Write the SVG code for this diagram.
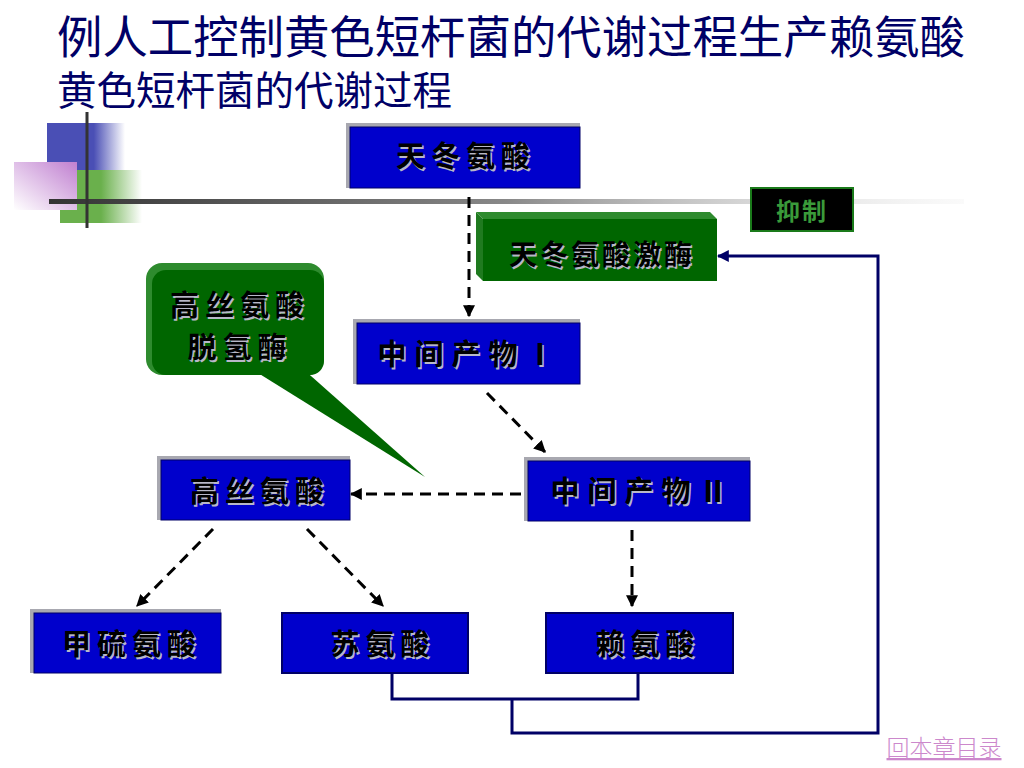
<svg xmlns="http://www.w3.org/2000/svg" width="1024" height="768" viewBox="0 0 1024 768">
<style>
.title{font-family:"Noto Sans CJK SC","Liberation Sans",sans-serif;fill:#000066}
.lbl{font-family:"Noto Sans CJK SC",sans-serif;font-size:29px;font-weight:700;text-anchor:middle;letter-spacing:6px}
.sh{fill:#b8b8c8}
.fg{fill:#000000}
.blue{fill:#0000CC;stroke:#000066;stroke-width:1}
.bev{fill:#a8a8b0}
.dash{fill:none;stroke:#000;stroke-width:3;stroke-dasharray:11 7;marker-end:url(#ah)}
.loop{fill:none;stroke:#000066;stroke-width:3}
</style>
<defs>
<marker id="ah" viewBox="0 0 10 10" refX="9" refY="5" markerWidth="4" markerHeight="4" orient="auto" markerUnits="strokeWidth"><path d="M0,0 L10,5 L0,10 z" fill="#000"/></marker>
<marker id="ahn" viewBox="0 0 10 10" refX="9" refY="5" markerWidth="4" markerHeight="4" orient="auto" markerUnits="strokeWidth"><path d="M0,0 L10,5 L0,10 z" fill="#000066"/></marker>
<linearGradient id="gBlue" x1="0" y1="0" x2="1" y2="0"><stop offset="0.6" stop-color="#4a4fb5"/><stop offset="1" stop-color="#4a4fb5" stop-opacity="0"/></linearGradient>
<linearGradient id="gGreen" x1="0" y1="0" x2="1" y2="0"><stop offset="0.5" stop-color="#6ab04c"/><stop offset="1" stop-color="#6ab04c" stop-opacity="0"/></linearGradient>
<linearGradient id="gPink" x1="1" y1="0" x2="0" y2="1"><stop offset="0" stop-color="#c080d0"/><stop offset="1" stop-color="#ffffff"/></linearGradient>
<linearGradient id="gLine" x1="0" y1="0" x2="1" y2="0"><stop offset="0" stop-color="#333"/><stop offset="0.5" stop-color="#888"/><stop offset="1" stop-color="#eee" stop-opacity="0.3"/></linearGradient>
</defs>
<rect width="1024" height="768" fill="#fff"/>

<g id="decor">
<rect x="47" y="123" width="78" height="47" fill="url(#gBlue)"/>
<rect x="60" y="170" width="82" height="53" fill="url(#gGreen)"/>
<rect x="14" y="162" width="63" height="48" fill="url(#gPink)"/>
<rect x="49" y="199" width="915" height="5" fill="url(#gLine)"/>
<rect x="85.500" y="112" width="3" height="116" fill="#333"/>
</g>

<g id="title">
<text class="title" x="57" y="54" font-size="45.400">例人工控制黄色短杆菌的代谢过程生产赖氨酸</text>
<text class="title" x="57" y="105" font-size="39.500">黄色短杆菌的代谢过程</text>
</g>

<g id="connectors">
<line class="dash" x1="469" y1="197" x2="469" y2="316"/>
<line class="dash" x1="487" y1="393" x2="545" y2="452"/>
<line class="dash" x1="521" y1="494" x2="351" y2="494"/>
<line class="dash" x1="213" y1="529" x2="137" y2="606"/>
<line class="dash" x1="307" y1="529" x2="383" y2="606"/>
<line class="dash" x1="632" y1="530" x2="632" y2="606"/>
<polyline class="loop" points="392,673 392,699 638,699 638,673"/>
<polyline class="loop" points="512,699 512,733 878,733 878,256 718,256" marker-end="url(#ahn)"/>
</g>

<g id="n-tdas">
<rect x="346" y="123" width="234" height="65" class="bev"/>
<rect x="350" y="127" width="230" height="61" class="blue"/>
<text class="lbl sh" x="467.500" y="168.500">天冬氨酸</text><text class="lbl fg" x="466" y="167">天冬氨酸</text>
</g>

<g id="n-kinase">
<polygon points="476,212 710,212 717,219 483,219" fill="#2e8b2e"/>
<polygon points="476,212 483,219 483,281 476,274" fill="#1f7a1f"/>
<rect x="483" y="219" width="234" height="62" fill="#006600"/>
<text class="lbl sh" x="603.500" y="266.500" style="font-size:28px;letter-spacing:3px">天冬氨酸激酶</text><text class="lbl fg" x="602" y="265" style="font-size:28px;letter-spacing:3px">天冬氨酸激酶</text>
</g>

<g id="n-inhibit">
<rect x="751" y="188" width="102" height="43" fill="#000" stroke="#1a7a1a" stroke-width="2"/>
<text x="802" y="220" style="font-family:'Noto Sans CJK SC',sans-serif;font-size:24px;font-weight:bold;text-anchor:middle;letter-spacing:2px;fill:#3a9a3a">抑制</text>
</g>

<g id="n-callout">
<polygon points="250,368 302,368 425,477" fill="#006600"/>
<rect x="146" y="263" width="178" height="112" rx="16" fill="#2e8b2e"/>
<rect x="152" y="270" width="172" height="105" rx="14" fill="#006600"/>
<text class="lbl sh" x="241.500" y="317.500">高丝氨酸</text><text class="lbl fg" x="240" y="316">高丝氨酸</text>
<text class="lbl sh" x="241.500" y="359.500">脱氢酶</text><text class="lbl fg" x="240" y="358">脱氢酶</text>
</g>

<g id="n-mid1">
<rect x="353" y="319" width="227" height="65" class="bev"/>
<rect x="357" y="323" width="223" height="61" class="blue"/>
<text class="lbl sh" x="471.500" y="366.500" style="letter-spacing:8px">中间产物Ⅰ</text><text class="lbl fg" x="470" y="365" style="letter-spacing:8px">中间产物Ⅰ</text>
</g>

<g id="n-mid2">
<rect x="524" y="457" width="226" height="64" class="bev"/>
<rect x="528" y="461" width="222" height="60" class="blue"/>
<text class="lbl sh" x="644.500" y="503.500" style="letter-spacing:8px">中间产物Ⅱ</text><text class="lbl fg" x="643" y="502" style="letter-spacing:8px">中间产物Ⅱ</text>
</g>

<g id="n-homoser">
<rect x="157" y="456" width="193" height="64" class="bev"/>
<rect x="161" y="460" width="189" height="60" class="blue"/>
<text class="lbl sh" x="261.500" y="503.500">高丝氨酸</text><text class="lbl fg" x="260" y="502">高丝氨酸</text>
</g>

<g id="n-met">
<rect x="30" y="609" width="191" height="64" class="bev"/>
<rect x="34" y="613" width="187" height="60" class="blue"/>
<text class="lbl sh" x="133.500" y="656.500">甲硫氨酸</text><text class="lbl fg" x="132" y="655">甲硫氨酸</text>
</g>

<g id="n-thr">
<rect x="282" y="613" width="186" height="60" class="blue" style="stroke-width:2"/>
<text class="lbl sh" x="384.500" y="656.500">苏氨酸</text><text class="lbl fg" x="383" y="655">苏氨酸</text>
</g>

<g id="n-lys">
<rect x="546" y="613" width="187" height="60" class="blue" style="stroke-width:2"/>
<text class="lbl sh" x="649.500" y="656.500">赖氨酸</text><text class="lbl fg" x="648" y="655">赖氨酸</text>
</g>

<g id="link">
<text x="944" y="756" style="font-family:'Noto Sans CJK SC',sans-serif;font-size:23px;font-weight:300;text-anchor:middle;fill:#cc88cc;text-decoration:underline">回本章目录</text>
</g>
</svg>
